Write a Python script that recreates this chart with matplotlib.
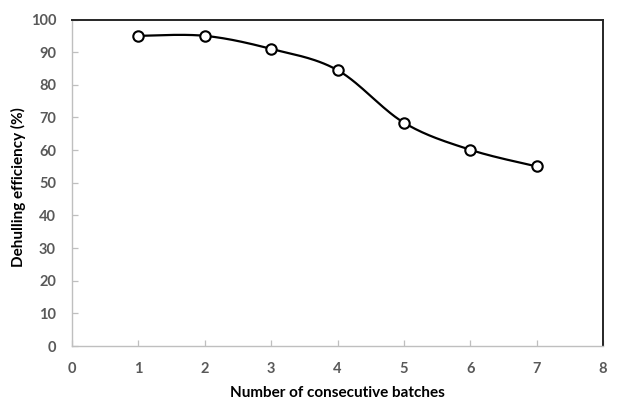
import numpy as np
import matplotlib
matplotlib.use("Agg")
import matplotlib.pyplot as plt

batches = [1, 2, 3, 4, 5, 6, 7]
efficiency = [95.0, 95.0, 91.0, 84.5, 68.4, 60.1, 55.0]
xticks = [0, 1, 2, 3, 4, 5, 6, 7, 8]
yticks = [0, 10, 20, 30, 40, 50, 60, 70, 80, 90, 100]

plt.rcParams['font.family'] = ['Lato', 'DejaVu Sans']

W, H = 621, 401
fig = plt.figure(figsize=(W/100, H/100), dpi=100)
ax = fig.add_axes([72/W, 1-346/H, (603-72)/W, (346-19.5)/H])


def smooth(xs, ys, n=30):
    # Excel-style smoothed line (Catmull-Rom Bezier)
    P = np.column_stack([xs, ys]).astype(float)
    out = [P[0]]
    m = len(P)
    for i in range(m - 1):
        p0 = P[i - 1] if i > 0 else P[i]
        p1 = P[i]
        p2 = P[i + 1]
        p3 = P[i + 2] if i + 2 < m else P[i + 1]
        c1 = p1 + (p2 - p0) / 6
        c2 = p2 - (p3 - p1) / 6
        t = np.linspace(0, 1, n)[1:, None]
        seg = ((1 - t) ** 3) * p1 + 3 * ((1 - t) ** 2) * t * c1 + 3 * (1 - t) * t ** 2 * c2 + t ** 3 * p2
        out.extend(seg)
    out = np.array(out)
    return out[:, 0], out[:, 1]


sx, sy = smooth(batches, efficiency)
ax.plot(sx, sy, color='black', lw=1.6, zorder=2)
ax.plot(batches, efficiency, ls='none', marker='o', ms=7.5, mfc='white',
        mec='black', mew=1.5, zorder=3)

ax.set_xlim(0, 8)
ax.set_ylim(0, 100)
ax.set_xticks(xticks)
ax.set_yticks(yticks)

for s in ['left', 'bottom']:
    ax.spines[s].set_color('#BFBFBF')
    ax.spines[s].set_linewidth(1.0)
for s in ['top', 'right']:
    ax.spines[s].set_color('#262626')
    ax.spines[s].set_linewidth(1.4)

ax.tick_params(axis='both', direction='in', length=4, width=0.9, color='#BFBFBF',
               labelcolor='#595959', labelsize=10.5)
ax.tick_params(axis='y', pad=11.5)
ax.tick_params(axis='x', pad=11.5)
for lab in ax.get_xticklabels() + ax.get_yticklabels():
    lab.set_fontweight('bold')

fig.text(337/W, 1-393/H, 'Number of consecutive batches', fontsize=11, fontweight='bold',
         ha='center', va='center')
fig.text(18.5/W, 1-187.5/H, 'Dehulling efficiency (%)', fontsize=11, fontweight='bold',
         ha='center', va='center', rotation=90)

fig.savefig('out.png', dpi=100)
